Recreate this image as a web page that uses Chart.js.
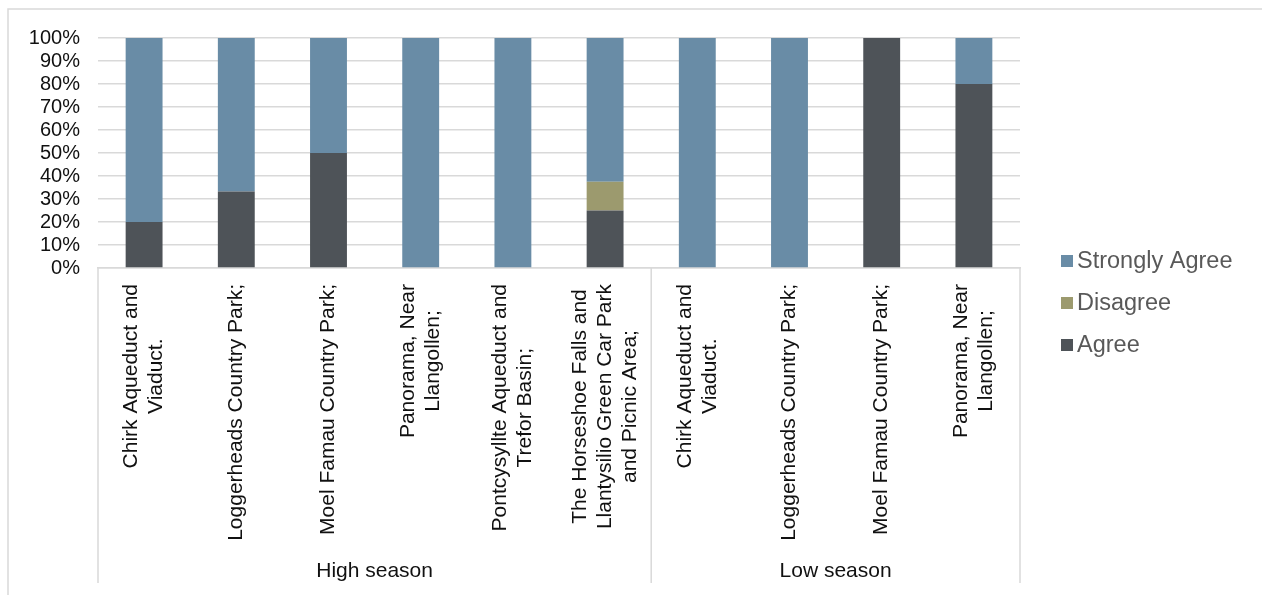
<!DOCTYPE html>
<html>
<head>
<meta charset="utf-8">
<script src="https://cdn.jsdelivr.net/npm/chart.js@4/dist/chart.umd.min.js"></script>
<style>
  html, body { margin: 0; padding: 0; background: #fff; }
  canvas { display: block; }
</style>
</head>
<body>
<canvas id="myChart" width="1262" height="595"></canvas>
<script>
// Sites surveyed, with multi-line labels as they appear under the bars
const sites = [
    ['Chirk Aqueduct and', 'Viaduct.'],
    ['Loggerheads Country Park;'],
    ['Moel Famau Country Park;'],
    ['Panorama, Near', 'Llangollen;'],
    ['Pontcysyllte Aqueduct and', 'Trefor Basin;'],
    ['The Horseshoe Falls and', 'Llantysilio Green Car Park', 'and Picnic Area;'],
    ['Chirk Aqueduct and', 'Viaduct.'],
    ['Loggerheads Country Park;'],
    ['Moel Famau Country Park;'],
    ['Panorama, Near', 'Llangollen;']
];
const seasons = ['High season', 'Low season'];
const sitesPerSeason = [6, 4];

// Share of responses (%)
const agree         = [20, 33.3, 50, 0, 0, 25, 0, 0, 100, 80];
const disagree      = [0, 0, 0, 0, 0, 12.5, 0, 0, 0, 0];
const stronglyAgree = [80, 66.7, 50, 100, 100, 62.5, 100, 100, 0, 20];

const yTicks = [0, 10, 20, 30, 40, 50, 60, 70, 80, 90, 100];

const FONT = '"Liberation Sans", Arial, sans-serif';
const GRID = '#d9d9d9';

// category labels, season groups, separators, legend and outer frame
const decorations = {
    id: 'decorations',
    afterDraw(chart) {
        const ctx = chart.ctx;
        const x = chart.scales.x;
        const area = chart.chartArea;
        const bottom = 583;

        ctx.save();
        // outer frame (top and left edges)
        ctx.strokeStyle = GRID;
        ctx.lineWidth = 1.5;
        ctx.beginPath();
        ctx.moveTo(8, 595);
        ctx.lineTo(8, 9);
        ctx.lineTo(1262, 9);
        ctx.stroke();

        // rotated site labels, text end at the top, lines centred in the block
        ctx.fillStyle = '#111';
        ctx.font = '21px ' + FONT;
        const lh = 25;
        sites.forEach((lines, i) => {
            const px = x.getPixelForValue(i);
            const w = Math.max(...lines.map(l => ctx.measureText(l).width));
            ctx.save();
            ctx.translate(px, area.bottom + 16);
            ctx.rotate(-Math.PI / 2);
            ctx.textAlign = 'center';
            ctx.textBaseline = 'middle';
            lines.forEach((l, k) => {
                ctx.fillText(l, -w / 2, (k - (lines.length - 1) / 2) * lh);
            });
            ctx.restore();
        });

        // season separators and names
        const edges = [area.left];
        let n = 0;
        sitesPerSeason.forEach(c => {
            n += c;
            edges.push(n < sites.length
                ? (x.getPixelForValue(n - 1) + x.getPixelForValue(n)) / 2
                : area.right);
        });
        ctx.strokeStyle = GRID;
        ctx.lineWidth = 1.5;
        edges.forEach(ex => {
            ctx.beginPath();
            ctx.moveTo(ex, area.bottom);
            ctx.lineTo(ex, bottom);
            ctx.stroke();
        });
        ctx.textAlign = 'center';
        ctx.textBaseline = 'middle';
        seasons.forEach((s, i) => {
            ctx.fillText(s, (edges[i] + edges[i + 1]) / 2, 571);
        });

        // legend, top item is the top of the stack
        ctx.font = '23.5px ' + FONT;
        ctx.textAlign = 'left';
        const items = chart.data.datasets.slice().reverse();
        items.forEach((ds, i) => {
            const cy = 261 + i * 42;
            ctx.fillStyle = ds.backgroundColor;
            ctx.fillRect(1061, cy - 6, 12, 12);
            ctx.fillStyle = '#595959';
            ctx.fillText(ds.label, 1077, cy + 1);
        });
        ctx.restore();
    }
};

const ctx = document.getElementById('myChart').getContext('2d');
const myChart = new Chart(ctx, {
    type: 'bar',
    data: {
        labels: sites.map(l => l.join(' ')),
        datasets: [
            { label: 'Agree', data: agree, backgroundColor: '#4e5358' },
            { label: 'Disagree', data: disagree, backgroundColor: '#9c9a6e' },
            { label: 'Strongly Agree', data: stronglyAgree, backgroundColor: '#698ca6' }
        ]
    },
    options: {
        responsive: false,
        animation: false,
        devicePixelRatio: 1,
        layout: { padding: { left: 10, top: 38, right: 242, bottom: 0 } },
        datasets: {
            bar: { categoryPercentage: 1, barPercentage: 0.4, borderWidth: 0 }
        },
        plugins: {
            legend: { display: false },
            tooltip: { enabled: false }
        },
        scales: {
            x: {
                stacked: true,
                grid: { display: false, drawTicks: false },
                border: { display: true, color: GRID, width: 1.5 },
                ticks: { display: false },
                afterFit(s) { s.height = 595 - 268; }
            },
            y: {
                stacked: true,
                min: 0,
                max: 100,
                afterBuildTicks(s) { s.ticks = yTicks.map(v => ({ value: v })); },
                afterFit(s) { s.width = 98 - 10; },
                grid: { color: GRID, lineWidth: 1.5, drawTicks: false },
                border: { display: false },
                ticks: {
                    autoSkip: false,
                    padding: 18,
                    color: '#111',
                    font: { family: FONT, size: 20 },
                    callback: v => v + '%'
                }
            }
        }
    },
    plugins: [decorations]
});
</script>
</body>
</html>
